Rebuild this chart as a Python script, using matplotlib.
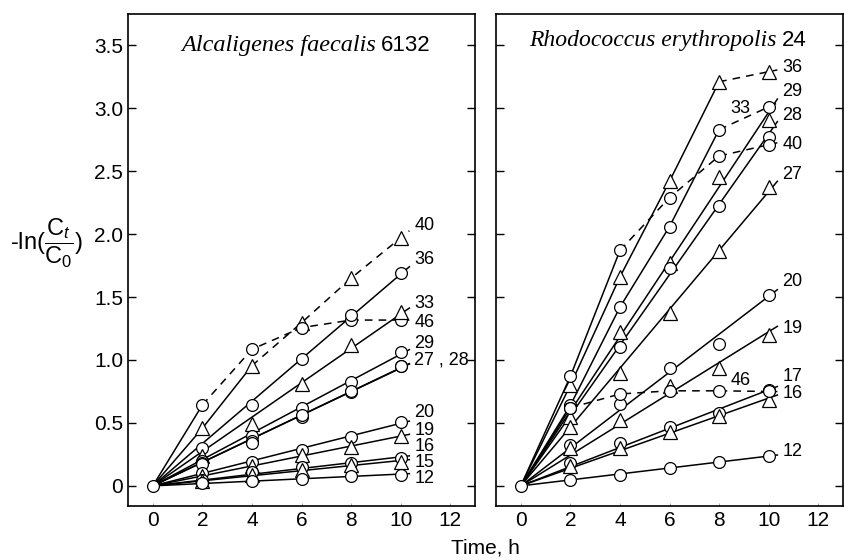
import numpy as np
import matplotlib
matplotlib.use('Agg')
import matplotlib.pyplot as plt

plt.rcParams['font.family'] = ['Liberation Sans', 'DejaVu Sans']
plt.rcParams['mathtext.fontset'] = 'custom'
plt.rcParams['mathtext.rm'] = 'Liberation Sans'
plt.rcParams['mathtext.it'] = 'Liberation Sans:italic'

hours = [0, 2, 4, 6, 8, 10]

# Alcaligenes faecalis 6132  (values at 2,4,6,8,10 h; 0 at t=0)
af_40 = [0, 0.458, 0.955, 1.296, 1.65, 1.97]
af_46 = [0, 0.643, 1.085, 1.257, 1.317, 1.317]
af_36 = [0, 0.30, 0.64, 1.005, 1.36, 1.693]
af_33 = [0, 0.238, 0.49, 0.81, 1.119, 1.378]
af_29 = [0, 0.20, 0.40, 0.62, 0.828, 1.066]
af_28 = [0, 0.18, 0.36, 0.55, 0.749, 0.955]
af_27 = [0, 0.17, 0.344, 0.56, 0.75, 0.95]
af_20 = [0, 0.10, 0.193, 0.286, 0.392, 0.511]
af_19 = [0, 0.08, 0.16, 0.246, 0.307, 0.397]
af_16 = [0, 0.05, 0.11, 0.148, 0.18, 0.22]
af_15 = [0, 0.04, 0.09, 0.13, 0.167, 0.188]
af_12 = [0, 0.026, 0.042, 0.053, 0.082, 0.087]

# Rhodococcus erythropolis 24
re_36 = [0, 0.80, 1.66, 2.42, 3.21, 3.29]
re_33 = [0, 0.64, 1.42, 2.06, 2.83, 3.01]
re_29 = [0, 0.55, 1.225, 1.77, 2.455, 2.905]
re_28 = [0, 0.62, 1.105, 1.73, 2.22, 2.77]
re_40 = [0, 0.87, 1.87, 2.29, 2.62, 2.71]
re_27 = [0, 0.47, 0.90, 1.37, 1.865, 2.375]
re_20 = [0, 0.325, 0.65, 0.94, 1.13, 1.52]
re_19 = [0, 0.30, 0.52, 0.79, 0.94, 1.20]
re_17 = [0, 0.18, 0.34, 0.47, 0.58, 0.76]
re_16 = [0, 0.16, 0.30, 0.43, 0.555, 0.68]
re_12 = [0, 0.05, 0.087, 0.14, 0.19, 0.24]
re_46 = [0, 0.62, 0.73, 0.755, 0.755, 0.75]

# (values, marker, index where dashed part starts or None)
af_series = [(af_40, '^', 2), (af_46, 'o', 1), (af_36, 'o', None), (af_33, '^', None),
             (af_29, 'o', None), (af_28, 'o', None), (af_27, 'o', None), (af_20, 'o', None),
             (af_19, '^', None), (af_16, 'o', None), (af_15, '^', None), (af_12, 'o', None)]
re_series = [(re_36, '^', 4), (re_33, 'o', 4), (re_29, '^', None), (re_28, 'o', None),
             (re_40, 'o', 2), (re_27, '^', None), (re_20, 'o', None), (re_19, '^', None),
             (re_17, 'o', None), (re_16, '^', None), (re_12, 'o', None), (re_46, 'o', 1)]

af_labels = [('40', 10.55, 2.07), ('36', 10.55, 1.80), ('33', 10.55, 1.45), ('46', 10.55, 1.30),
             ('29', 10.55, 1.13), ('27 , 28', 10.55, 1.0), ('20', 10.55, 0.58), ('19', 10.55, 0.44),
             ('16', 10.55, 0.31), ('15', 10.55, 0.185), ('12', 10.55, 0.06)]
re_labels = [('36', 10.55, 3.32), ('29', 10.55, 3.13), ('33', 8.45, 3.0), ('28', 10.55, 2.94),
             ('40', 10.55, 2.71), ('27', 10.55, 2.47), ('20', 10.55, 1.62), ('19', 10.55, 1.25),
             ('17', 10.55, 0.87), ('46', 8.45, 0.84), ('16', 10.55, 0.73), ('12', 10.55, 0.27)]

x = np.array(hours, dtype=float)
ext = 10.35
dash = (0, (5, 4))


def draw(ax, series, labels):
    for vals, mk, brk in series:
        y = np.array(vals)
        if brk is None:
            k = np.sum(x * y) / np.sum(x * x)
            ax.plot([0, ext], [0, k * ext], color='black', lw=1.1, zorder=2)
        else:
            ax.plot(x[:brk + 1], y[:brk + 1], color='black', lw=1.1, zorder=2)
            s = (y[-1] - y[-2]) / (x[-1] - x[-2])
            xd = np.append(x[brk:], ext)
            yd = np.append(y[brk:], y[-1] + s * (ext - x[-1]))
            ax.plot(xd, yd, color='black', lw=1.1, ls=dash, zorder=2)
        ms = 9.5 if mk == '^' else 8.5
        ax.plot(x[1:], y[1:], mk, ms=ms, mfc='white', mec='black', mew=0.9, zorder=3)
    ax.plot([0], [0], 'o', ms=8.5, mfc='white', mec='black', mew=0.9, zorder=4)
    for txt, lx, ly in labels:
        ax.text(lx, ly, txt, fontsize=13, ha='left', va='center')
    ax.set_xlim(-1, 13)
    ax.set_ylim(-0.16, 3.75)
    ax.set_xticks([0, 2, 4, 6, 8, 10, 12])
    ax.set_yticks([0, 0.5, 1.0, 1.5, 2.0, 2.5, 3.0, 3.5])
    ax.tick_params(axis='y', direction='in', length=6, width=1, left=True, right=True)
    ax.tick_params(axis='x', direction='in', length=2, width=0.6, color='#999999')
    ax.tick_params(labelsize=15)
    for sp in ax.spines.values():
        sp.set_linewidth(1.2)


fig = plt.figure(figsize=(8.45, 5.6), dpi=100)
ax1 = fig.add_axes([0.1515, 0.0964, 0.4107, 0.879])
ax2 = fig.add_axes([0.587, 0.0964, 0.4107, 0.879])

draw(ax1, af_series, af_labels)
draw(ax2, re_series, re_labels)
ax1.set_yticklabels(['0', '0.5', '1.0', '1.5', '2.0', '2.5', '3.0', '3.5'])
ax2.set_yticklabels([])

ax1.text(9.0, 3.5, 'Alcaligenes faecalis', family='Liberation Serif', style='italic',
         fontsize=17.5, ha='right', va='center')
ax1.text(9.2, 3.5, '6132', fontsize=16, ha='left', va='center')
ax2.text(10.32, 3.54, 'Rhodococcus erythropolis', family='Liberation Serif', style='italic',
         fontsize=17, ha='right', va='center')
ax2.text(10.55, 3.54, '24', fontsize=16, ha='left', va='center')

fig.text(0.012, 0.566, r'-ln($\dfrac{\mathrm{C}_t}{\mathrm{C}_0}$)', fontsize=17,
         ha='left', va='center', family='Liberation Sans')
fig.text(0.574, 0.021, 'Time, h', fontsize=15, ha='center', va='center')

fig.savefig('out.png', dpi=100)
